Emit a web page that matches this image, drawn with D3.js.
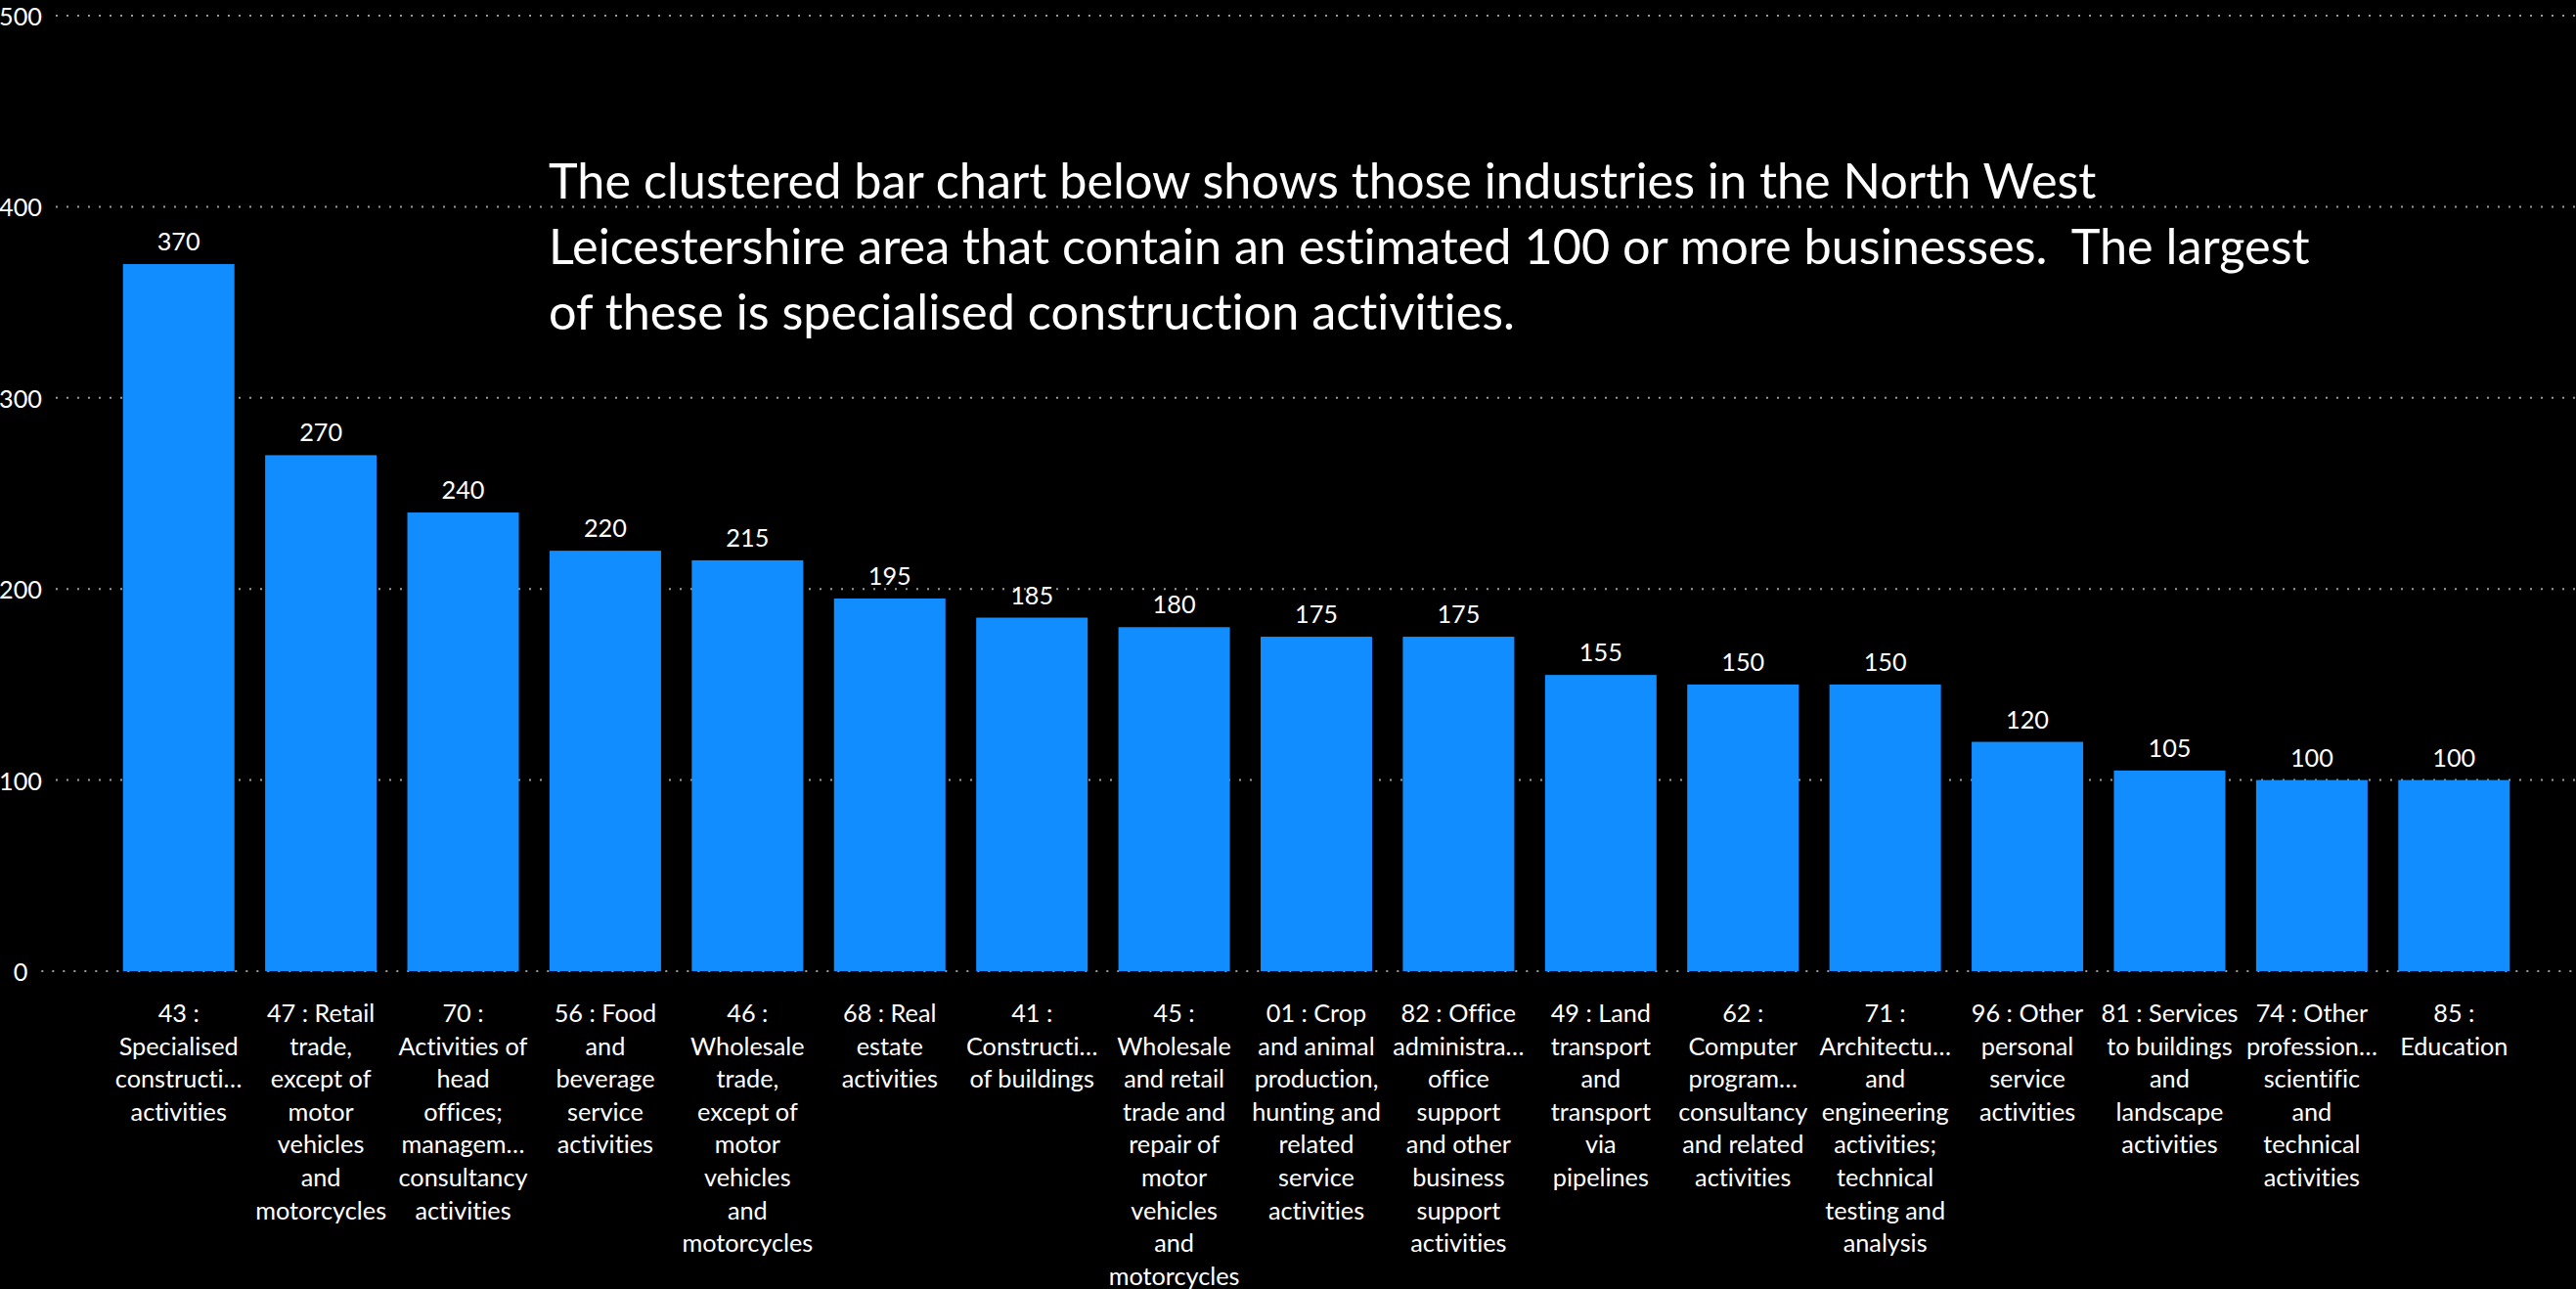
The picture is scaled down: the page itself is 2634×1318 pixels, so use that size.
<!DOCTYPE html>
<html>
<head>
<meta charset="utf-8">
<script src="https://cdn.jsdelivr.net/npm/d3@7"></script>
<style>
  html, body { margin: 0; padding: 0; background: #000; }
  svg { display: block; }
  text { white-space: pre; font-variant-ligatures: none; font-feature-settings: "liga" 0, "clig" 0; }
</style>
</head>
<body>
<svg id="chart" width="2634" height="1318"></svg>
<script>
// ---------- data ----------
const categories = [
  "43 : Specialised construction activities",
  "47 : Retail trade, except of motor vehicles and motorcycles",
  "70 : Activities of head offices; management consultancy activities",
  "56 : Food and beverage service activities",
  "46 : Wholesale trade, except of motor vehicles and motorcycles",
  "68 : Real estate activities",
  "41 : Construction of buildings",
  "45 : Wholesale and retail trade and repair of motor vehicles and motorcycles",
  "01 : Crop and animal production, hunting and related service activities",
  "82 : Office administrative, office support and other business support activities",
  "49 : Land transport and transport via pipelines",
  "62 : Computer programming, consultancy and related activities",
  "71 : Architectural and engineering activities; technical testing and analysis",
  "96 : Other personal service activities",
  "81 : Services to buildings and landscape activities",
  "74 : Other professional, scientific and technical activities",
  "85 : Education"
];
const businesses = [370, 270, 240, 220, 215, 195, 185, 180, 175, 175, 155, 150, 150, 120, 105, 100, 100];
const tickLabelLines = [
  ["43 :", "Specialised", "constructi…", "activities"],
  ["47 : Retail", "trade,", "except of", "motor", "vehicles", "and", "motorcycles"],
  ["70 :", "Activities of", "head", "offices;", "managem…", "consultancy", "activities"],
  ["56 : Food", "and", "beverage", "service", "activities"],
  ["46 :", "Wholesale", "trade,", "except of", "motor", "vehicles", "and", "motorcycles"],
  ["68 : Real", "estate", "activities"],
  ["41 :", "Constructi…", "of buildings"],
  ["45 :", "Wholesale", "and retail", "trade and", "repair of", "motor", "vehicles", "and", "motorcycles"],
  ["01 : Crop", "and animal", "production,", "hunting and", "related", "service", "activities"],
  ["82 : Office", "administra…", "office", "support", "and other", "business", "support", "activities"],
  ["49 : Land", "transport", "and", "transport", "via", "pipelines"],
  ["62 :", "Computer", "program…", "consultancy", "and related", "activities"],
  ["71 :", "Architectu…", "and", "engineering", "activities;", "technical", "testing and", "analysis"],
  ["96 : Other", "personal", "service", "activities"],
  ["81 : Services", "to buildings", "and", "landscape", "activities"],
  ["74 : Other", "profession…", "scientific", "and", "technical", "activities"],
  ["85 :", "Education"]
];
const yTicks = [0, 100, 200, 300, 400, 500];
const titleLines = [
  "The clustered bar chart below shows those industries in the North West",
  "Leicestershire area that contain an estimated 100 or more businesses.  The largest",
  "of these is specialised construction activities."
];

// ---------- layout ----------
const W = 2634, H = 1318;
const FONT = "Lato, 'Open Sans', sans-serif";
const svg = d3.select("#chart");

// fit font size to a target width
function fitSize(str, target) {
  const t = svg.append("text").attr("font-family", FONT).attr("font-size", 100).text(str);
  const w = t.node().getComputedTextLength();
  t.remove();
  return 100 * target / w;
}
const smallSize = fitSize("motorcycles", 134);
const titleSize = fitSize(titleLines[0], 1583);

const y = d3.scaleLinear().domain([0, 500]).range([993, 16]);
const x = d3.scaleBand().domain(categories).range([110, 2582])
  .paddingInner(0.216).paddingOuter(0.108);

// gridlines + y labels
const yAxis = svg.append("g").attr("class", "y-axis");
yTicks.forEach(v => {
  const lbl = yAxis.append("text")
    .attr("x", 21).attr("y", y(v))
    .attr("text-anchor", "middle").attr("dominant-baseline", "central")
    .attr("font-family", FONT).attr("font-size", smallSize)
    .attr("fill", "#ffffff").text(d3.format("d")(v));
  const bb = lbl.node().getBBox();
  yAxis.append("line")
    .attr("x1", bb.x + bb.width + 14).attr("x2", W)
    .attr("y1", y(v)).attr("y2", y(v))
    .attr("stroke", "#9a9a9a").attr("stroke-width", 2)
    .attr("stroke-dasharray", "2,9");
});

// bars
svg.append("g").selectAll("rect").data(businesses).join("rect")
  .attr("x", (d, i) => x(categories[i]))
  .attr("width", x.bandwidth())
  .attr("y", d => y(d))
  .attr("height", d => y(0) - y(d))
  .attr("fill", "#118DFF");

// value labels
svg.append("g").selectAll("text").data(businesses).join("text")
  .attr("x", (d, i) => x(categories[i]) + x.bandwidth() / 2)
  .attr("y", d => y(d) - 14)
  .attr("text-anchor", "middle")
  .attr("font-family", FONT).attr("font-size", smallSize)
  .attr("fill", "#ffffff")
  .text(d => d3.format("d")(d));

// category labels
const xg = svg.append("g").attr("class", "x-axis");
categories.forEach((c, i) => {
  const t = xg.append("text")
    .attr("text-anchor", "middle")
    .attr("font-family", FONT).attr("font-size", smallSize)
    .attr("fill", "#ffffff");
  tickLabelLines[i].forEach((ln, j) => {
    t.append("tspan")
      .attr("x", x(c) + x.bandwidth() / 2)
      .attr("y", 1035 + j * 33.6)
      .attr("dominant-baseline", "central")
      .text(ln);
  });
});

// title text box
const tt = svg.append("text")
  .attr("font-family", FONT).attr("font-size", titleSize)
  .attr("fill", "#ffffff");
titleLines.forEach((ln, j) => {
  tt.append("tspan").attr("x", 561).attr("y", 203 + j * 67).text(ln);
});
</script>
</body>
</html>
